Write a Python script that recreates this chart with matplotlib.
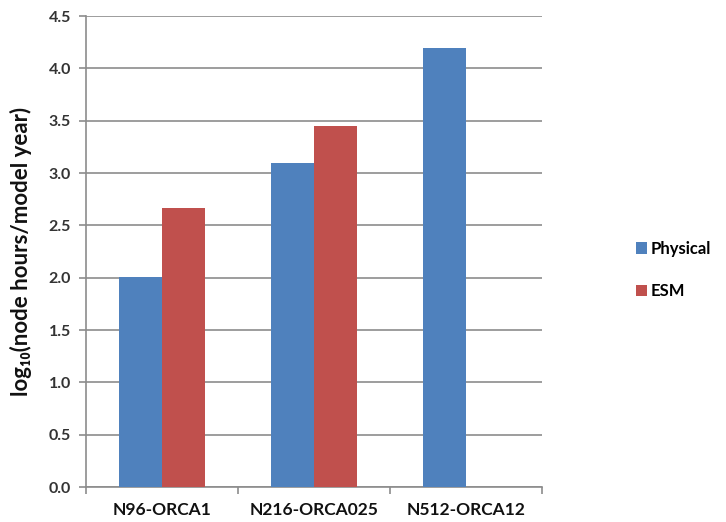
import numpy as np
import matplotlib.pyplot as plt

plt.rcParams['font.family'] = ['Lato', 'DejaVu Sans']

configs = ['N96-ORCA1', 'N216-ORCA025', 'N512-ORCA12']
physical = [2.01, 3.1, 4.2]
esm = [2.67, 3.45, np.nan]
yticks = np.arange(0, 4.51, 0.5)

fig = plt.figure(figsize=(7.26, 5.22), dpi=100)
ax = fig.add_axes([0.1185, 0.067, 0.628, 0.902])

x = np.arange(len(configs))
w = 0.28
ax.bar(x - w/2, physical, w, color='#4F81BD', label='Physical', zorder=3)
ax.bar(x + w/2, esm, w, color='#C0504D', label='ESM', zorder=3)

ax.set_xlim(-0.5, 2.5)
ax.set_ylim(0, 4.5)
ax.set_yticks(yticks)
ax.set_yticklabels(['%.1f' % v for v in yticks], fontsize=11.5, fontweight='bold', color='#333333')
ax.yaxis.grid(True, color='#8c8c8c', lw=1.2, zorder=0)

# category boundaries get the tick marks, centres get the labels
ax.set_xticks(np.arange(-0.5, 3, 1))
ax.set_xticklabels([])
ax.set_xticks(x, minor=True)
ax.set_xticklabels(configs, minor=True, fontsize=12.5, fontweight='bold', color='#111111')
ax.tick_params(axis='x', which='minor', length=0, pad=11)
ax.tick_params(axis='x', which='major', length=5, color='#8c8c8c', width=1.2)
ax.tick_params(axis='y', length=5, color='#8c8c8c', width=1.2, pad=6)

for s in ['top', 'right']:
    ax.spines[s].set_visible(False)
for s in ['left', 'bottom']:
    ax.spines[s].set_color('#8c8c8c')
    ax.spines[s].set_linewidth(1.2)

ax.set_ylabel('log₁₀(node hours/model year)', fontsize=16, fontweight='bold', color='#111111', labelpad=12)

fig.legend(loc='center left', bbox_to_anchor=(0.855, 0.483), frameon=False,
           prop={'size': 12, 'weight': 'bold'}, handlelength=0.7, handleheight=0.7,
           handletextpad=0.2, labelspacing=1.6)

fig.savefig('out.png', dpi=100)
